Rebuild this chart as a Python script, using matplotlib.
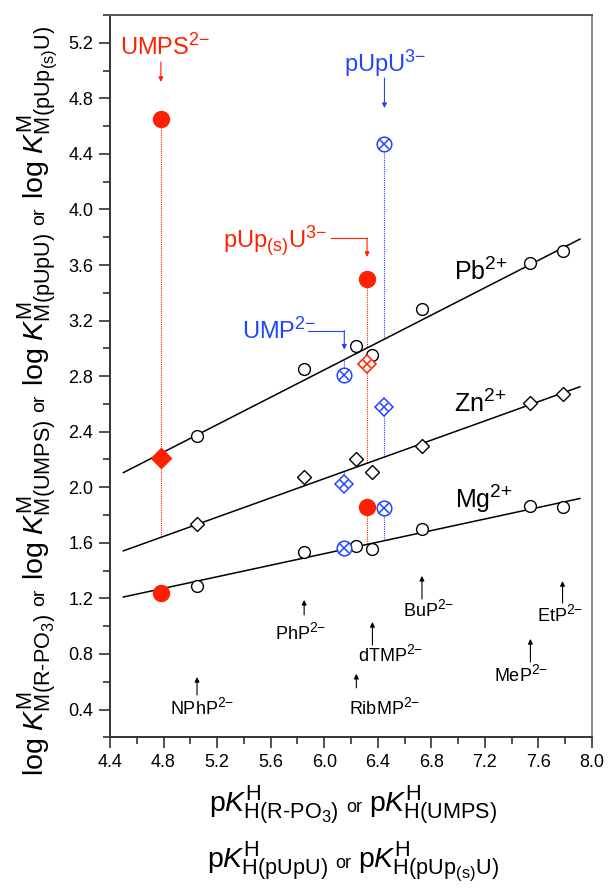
import numpy as np
import matplotlib
matplotlib.use('Agg')
import matplotlib.pyplot as plt
import matplotlib._mathtext as mathtext_core
from matplotlib.ticker import MultipleLocator, FormatStrFormatter
from matplotlib.transforms import IdentityTransform

# slightly larger sub/superscripts than matplotlib's default 0.7
mathtext_core.SHRINK_FACTOR = 0.76

plt.rcParams['font.family'] = ['Liberation Sans', 'DejaVu Sans']
plt.rcParams['mathtext.fontset'] = 'custom'
plt.rcParams['mathtext.rm'] = 'Liberation Sans'
plt.rcParams['mathtext.it'] = 'Liberation Sans:italic'
plt.rcParams['mathtext.bf'] = 'Liberation Sans:bold'

RED = '#ff2000'
BLUE = '#2244ff'

# simple phosph(on)ate ligands R-PO3(2-) used for the reference lines
ligands = ['NPhP', 'PhP', 'RibMP', 'dTMP', 'BuP', 'MeP', 'EtP']
pka_lig = [5.05, 5.85, 6.24, 6.36, 6.73, 7.54, 7.78]
logk_pb = [2.37, 2.855, 3.02, 2.95, 3.285, 3.615, 3.70]
logk_zn = [1.735, 2.075, 2.205, 2.11, 2.30, 2.61, 2.675]
logk_mg = [1.29, 1.535, 1.58, 1.555, 1.70, 1.865, 1.855]

# reference lines: log K = m * pKa + b
fit_pb = (0.493, -0.113)
fit_zn = (0.3465, -0.017)
fit_mg = (0.208, 0.274)
fit_x = [4.5, 7.91]

# nucleotides, values for Pb2+, Zn2+, Mg2+
pka_umps = 4.78
umps_vals = [4.65, 2.21, 1.24]
pka_pups = 6.32
pups_vals = [3.50, 2.885, 1.86]
pka_pupu = 6.45
pupu_vals = [4.47, 2.58, 1.85]
pka_ump = 6.15
ump_vals = [2.81, 2.025, 1.565]

fig = plt.figure(figsize=(6.09, 8.88), dpi=100)
ax = fig.add_axes([110 / 609, 1 - 737.3 / 888, 482 / 609, 722.3 / 888])

fits = [fit_pb, fit_zn, fit_mg]
xf = np.array(fit_x)
for m, b in fits:
    ax.plot(xf, m * xf + b, color='k', lw=1.1, zorder=2)


def line_at(fit, x):
    return fit[0] * x + fit[1]


# dotted drops from the nucleotide points to the reference lines
def drops(x, vals, color):
    for v, fit in zip(vals, fits):
        ax.plot([x, x], [v, line_at(fit, x)], color=color, lw=0.8,
                ls=(0, (1, 1)), zorder=1)


drops(pka_umps, umps_vals, RED)
drops(pka_pups, pups_vals, RED)
drops(pka_pupu, pupu_vals, BLUE)
drops(pka_ump, ump_vals, BLUE)

# ligand points
ax.plot(pka_lig, logk_pb, 'o', ms=8.5, mfc='white', mec='k', mew=1.0, zorder=3)
ax.plot(pka_lig, logk_mg, 'o', ms=8.5, mfc='white', mec='k', mew=1.0, zorder=3)
ax.plot(pka_lig, logk_zn, 'D', ms=7, mfc='white', mec='k', mew=1.0, zorder=3)


def crossed(x, y, marker, color, ms):
    ax.plot(x, y, marker, ms=ms, mfc='white', mec=color, mew=1.1, zorder=4)
    ax.plot(x, y, 'x', ms=ms * 0.68, mec=color, mew=1.1, zorder=4)


# UMPS (filled red)
ax.plot(pka_umps, umps_vals[0], 'o', ms=11.5, color=RED, zorder=4)
ax.plot(pka_umps, umps_vals[1], 'D', ms=10, color=RED, zorder=4)
ax.plot(pka_umps, umps_vals[2], 'o', ms=11.5, color=RED, zorder=4)
# pUp(s)U
ax.plot(pka_pups, pups_vals[0], 'o', ms=11.5, color=RED, zorder=4)
crossed(pka_pups, pups_vals[1], 'D', RED, 9)
ax.plot(pka_pups, pups_vals[2], 'o', ms=11.5, color=RED, zorder=4)
# pUpU
crossed(pka_pupu, pupu_vals[0], 'o', BLUE, 10.5)
crossed(pka_pupu, pupu_vals[1], 'D', BLUE, 9)
crossed(pka_pupu, pupu_vals[2], 'o', BLUE, 10.5)
# UMP
crossed(pka_ump, ump_vals[0], 'o', BLUE, 10.5)
crossed(pka_ump, ump_vals[1], 'D', BLUE, 9)
crossed(pka_ump, ump_vals[2], 'o', BLUE, 10.5)

arrow = dict(arrowstyle='-|>', lw=0.8, mutation_scale=7, shrinkA=0, shrinkB=0)


def arr(x, y0, y1, color='k'):
    ax.annotate('', xy=(x, y1), xytext=(x, y0),
                arrowprops=dict(arrow, color=color))


# nucleotide labels
ax.text(4.475, 5.112, r'UMPS$^{2{-}}$', color=RED, fontsize=17)
arr(pka_umps, 5.062, 4.918, RED)
ax.text(6.145, 4.99, r'pUpU$^{3{-}}$', color=BLUE, fontsize=17)
arr(pka_pupu, 4.946, 4.73, BLUE)
ax.text(5.246, 3.723, r'pUp$_{\mathrm{(s)}}$U$^{3{-}}$', color=RED, fontsize=17)
ax.plot([6.048, pka_pups], [3.795, 3.795], color=RED, lw=0.8)
arr(pka_pups, 3.795, 3.658, RED)
ax.text(5.389, 3.07, r'UMP$^{2{-}}$', color=BLUE, fontsize=17)
ax.plot([5.876, pka_ump], [3.128, 3.128], color=BLUE, lw=0.8)
arr(pka_ump, 3.128, 2.991, BLUE)

# metal labels
ax.text(6.969, 3.492, r'Pb$^{2{+}}$', fontsize=18)
ax.text(6.969, 2.542, r'Zn$^{2{+}}$', fontsize=18)
ax.text(6.977, 1.851, r'Mg$^{2{+}}$', fontsize=18)

# ligand labels with small arrows
lab_x = [4.849, 5.636, 6.183, 6.25, 6.587, 7.269, 7.591]
lab_y = [0.36, 0.90, 0.36, 0.742, 1.066, 0.598, 1.03]
arr_y0 = [0.505, 1.081, 0.556, 0.864, 1.196, 0.742, 1.167]
arr_y1 = [0.634, 1.189, 0.657, 1.03, 1.362, 0.908, 1.325]
for name, px, lx, ly, a0, a1 in zip(ligands, pka_lig, lab_x, lab_y, arr_y0, arr_y1):
    ax.text(lx, ly, name + r'$^{2{-}}$', fontsize=13)
    arr(px, a0, a1)

ax.set_xlim(4.4, 8.0)
ax.set_ylim(0.2, 5.4)
ax.xaxis.set_major_locator(MultipleLocator(0.4))
ax.xaxis.set_minor_locator(MultipleLocator(0.2))
ax.yaxis.set_minor_locator(MultipleLocator(0.2))
ax.xaxis.set_major_formatter(FormatStrFormatter('%.1f'))
ax.yaxis.set_major_formatter(FormatStrFormatter('%.1f'))
ax.set_yticks(np.arange(0.4, 5.3, 0.4))
ax.tick_params(which='major', length=8, width=1.2, labelsize=13, pad=4,
               color='#333333')
ax.tick_params(which='minor', length=5, width=1.2, color='#333333')
for sp in ax.spines.values():
    sp.set_linewidth(1.4)
    sp.set_color('#333333')
ax.spines['right'].set_color('#888888')
ax.spines['top'].set_color('#555555')


def chain(pieces, cx, cy, rot=0, gap=7):
    # lay text pieces end to end, centred on (cx, cy) in pixels
    r = fig.canvas.get_renderer()
    texts = [fig.text(0, 0, s, fontsize=fs, rotation=rot, rotation_mode='anchor',
                      ha='left', va='baseline', transform=IdentityTransform())
             for s, fs in pieces]
    sizes = []
    for t in texts:
        bb = t.get_window_extent(r)
        sizes.append(bb.height if rot else bb.width)
    total = sum(sizes) + gap * (len(sizes) - 1)
    pos = (cy if rot else cx) - total / 2
    for t, s in zip(texts, sizes):
        t.set_position((cx, pos) if rot else (pos, cy))
        pos += s + gap


big, small = 20.5, 14
chain([(r'log $K^{\mathrm{M}}_{\mathrm{M(R‐PO_3)}}$', big), ('or', small),
       (r'log $K^{\mathrm{M}}_{\mathrm{M(UMPS)}}$', big), ('or', small),
       (r'log $K^{\mathrm{M}}_{\mathrm{M(pUpU)}}$', big), ('or', small),
       (r'log $K^{\mathrm{M}}_{\mathrm{M(pUp_{(s)}U)}}$', big)],
      44, 888 - 401, rot=90, gap=8)
chain([(r'p$K^{\mathrm{H}}_{\mathrm{H(R‐PO_3)}}$', 20.5), ('or', 13),
       (r'p$K^{\mathrm{H}}_{\mathrm{H(UMPS)}}$', 20.5)], 353, 888 - 812)
chain([(r'p$K^{\mathrm{H}}_{\mathrm{H(pUpU)}}$', 20.5), ('or', 13),
       (r'p$K^{\mathrm{H}}_{\mathrm{H(pUp_{(s)}U)}}$', 20.5)], 353, 888 - 868)

fig.savefig('out.png', dpi=100)
